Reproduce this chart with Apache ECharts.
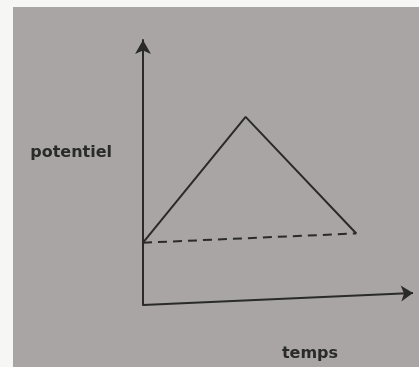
<!DOCTYPE html>
<html>
<head>
<meta charset="utf-8">
<script src="https://cdn.jsdelivr.net/npm/echarts@6/dist/echarts.min.js"></script>
<style>
  html, body { margin: 0; padding: 0; background: #f6f6f4; width: 419px; height: 367px; overflow: hidden; }
  #chart { position: absolute; left: 13px; top: 7px; width: 406px; height: 360px; background: #a8a5a4; }
</style>
</head>
<body>
<div id="chart"></div>
<script>
// Potential sweep: rise to a peak, then fall back
const tempsPoints = [0, 3.8, 7.9];
const potentielPoints = [2.35, 7.1, 2.7];

// Dashed reference line joining start and end of the sweep
const baseTemps = [0, 7.9];
const basePotentiel = [2.35, 2.7];

// Hand-drawn time axis: drifts slightly upward toward the arrow
const timeAxisTemps = [0, 10];
const timeAxisPotentiel = [0, 0.45];

const ink = '#2b2a2a';
const font = '"DejaVu Sans", sans-serif';

const chart = echarts.init(document.getElementById('chart'));
chart.setOption({
  animation: false,
  grid: { left: 130, right: 6, top: 33, bottom: 62 },
  xAxis: {
    type: 'value', min: 0, max: 10,
    axisLine: { show: false }, axisTick: { show: false },
    axisLabel: { show: false }, splitLine: { show: false },
    name: 'temps', nameLocation: 'middle', nameGap: 41,
    nameTextStyle: { color: ink, fontFamily: font, fontWeight: 'bold', fontSize: 16, padding: [0, 0, 0, 64] }
  },
  yAxis: {
    type: 'value', min: 0, max: 10,
    axisLine: { show: true, symbol: ['none', 'arrow'], symbolSize: [12, 14], lineStyle: { color: ink, width: 2 } },
    axisTick: { show: false }, axisLabel: { show: false }, splitLine: { show: false },
    name: 'potentiel', nameLocation: 'middle', nameRotate: 0, nameGap: 31,
    nameTextStyle: { color: ink, fontFamily: font, fontWeight: 'bold', fontSize: 16, verticalAlign: 'bottom', lineHeight: 40 }
  },
  series: [
    {
      type: 'line', silent: true, symbol: 'none',
      data: tempsPoints.map((t, i) => [t, potentielPoints[i]]),
      lineStyle: { color: ink, width: 2 }
    },
    {
      type: 'line', silent: true, symbol: 'none',
      data: baseTemps.map((t, i) => [t, basePotentiel[i]]),
      lineStyle: { color: ink, width: 2, type: [9, 6] }
    },
    {
      type: 'line', silent: true, symbol: 'none', data: [],
      markLine: {
        silent: true, animation: false,
        symbol: ['none', 'arrow'], symbolSize: [12, 12],
        label: { show: false },
        lineStyle: { color: ink, width: 2, type: 'solid' },
        data: [[
          { coord: [timeAxisTemps[0], timeAxisPotentiel[0]] },
          { coord: [timeAxisTemps[1], timeAxisPotentiel[1]] }
        ]]
      }
    }
  ]
});
</script>
</body>
</html>
